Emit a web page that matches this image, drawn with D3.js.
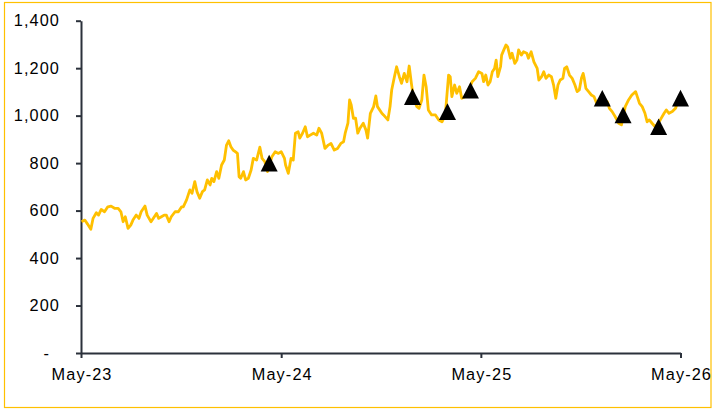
<!DOCTYPE html>
<html>
<head>
<meta charset="utf-8">
<script src="https://cdn.jsdelivr.net/npm/d3@7"></script>
<style>
    html, body { margin: 0; padding: 0; background: #fff; }
    svg text { font-family: "Liberation Sans", Arial, sans-serif; fill: #000; }
</style>
</head>
<body>
<svg id="chart" width="714" height="410"></svg>
<script>
// price series
const dates = [
    '2023-05-02', '2023-05-08', '2023-05-13', '2023-05-19', '2023-05-23', '2023-05-29', '2023-06-02', '2023-06-07',
    '2023-06-13', '2023-06-19', '2023-06-25', '2023-07-02', '2023-07-08', '2023-07-13', '2023-07-17', '2023-07-21',
    '2023-07-26', '2023-07-31', '2023-08-04', '2023-08-10', '2023-08-15', '2023-08-19', '2023-08-26', '2023-08-30',
    '2023-09-06', '2023-09-10', '2023-09-16', '2023-09-20', '2023-09-25', '2023-09-30', '2023-10-04', '2023-10-09',
    '2023-10-13', '2023-10-20', '2023-10-26', '2023-11-01', '2023-11-04', '2023-11-10', '2023-11-16', '2023-11-20',
    '2023-11-25', '2023-11-29', '2023-12-04', '2023-12-09', '2023-12-13', '2023-12-18', '2023-12-23', '2023-12-26',
    '2023-12-30', '2024-01-04', '2024-01-08', '2024-01-13', '2024-01-18', '2024-01-22', '2024-01-26', '2024-01-30',
    '2024-02-03', '2024-02-07', '2024-02-11', '2024-02-14', '2024-02-17', '2024-02-22', '2024-02-26', '2024-03-02',
    '2024-03-07', '2024-03-11', '2024-03-17', '2024-03-23', '2024-03-27', '2024-04-01', '2024-04-06', '2024-04-14',
    '2024-04-20', '2024-04-26', '2024-05-01', '2024-05-07', '2024-05-09', '2024-05-14', '2024-05-19', '2024-05-23',
    '2024-05-27', '2024-06-01', '2024-06-04', '2024-06-09', '2024-06-14', '2024-06-18', '2024-06-23', '2024-06-29',
    '2024-07-05', '2024-07-09', '2024-07-14', '2024-07-20', '2024-07-26', '2024-07-31', '2024-08-06', '2024-08-12',
    '2024-08-18', '2024-08-23', '2024-08-26', '2024-08-31', '2024-09-03', '2024-09-06', '2024-09-10', '2024-09-14',
    '2024-09-18', '2024-09-22', '2024-09-28', '2024-10-03', '2024-10-06', '2024-10-11', '2024-10-17', '2024-10-21',
    '2024-10-24', '2024-11-01', '2024-11-04', '2024-11-12', '2024-11-16', '2024-11-19', '2024-11-24', '2024-11-28',
    '2024-12-03', '2024-12-07', '2024-12-12', '2024-12-17', '2024-12-21', '2024-12-25', '2024-12-29', '2025-01-04',
    '2025-01-08', '2025-01-13', '2025-01-17', '2025-01-21', '2025-01-25', '2025-01-31', '2025-02-07', '2025-02-13',
    '2025-02-19', '2025-02-25', '2025-03-03', '2025-03-06', '2025-03-09', '2025-03-14', '2025-03-18', '2025-03-23',
    '2025-03-27', '2025-04-02', '2025-04-09', '2025-04-15', '2025-04-21', '2025-04-27', '2025-05-03', '2025-05-06',
    '2025-05-10', '2025-05-14', '2025-05-18', '2025-05-22', '2025-05-26', '2025-05-29', '2025-06-01', '2025-06-06',
    '2025-06-08', '2025-06-12', '2025-06-16', '2025-06-19', '2025-06-24', '2025-06-27', '2025-07-02', '2025-07-06',
    '2025-07-09', '2025-07-14', '2025-07-18', '2025-07-24', '2025-07-27', '2025-08-01', '2025-08-06', '2025-08-09',
    '2025-08-12', '2025-08-15', '2025-08-20', '2025-08-24', '2025-08-28', '2025-09-02', '2025-09-07', '2025-09-11',
    '2025-09-15', '2025-09-19', '2025-09-23', '2025-09-28', '2025-10-01', '2025-10-05', '2025-10-10', '2025-10-15',
    '2025-10-20', '2025-10-24', '2025-10-28', '2025-11-01', '2025-11-04', '2025-11-06', '2025-11-09', '2025-11-14',
    '2025-11-19', '2025-11-24', '2025-11-29', '2025-12-06', '2025-12-12', '2025-12-18', '2025-12-22', '2025-12-27',
    '2026-01-02', '2026-01-08', '2026-01-13', '2026-01-20', '2026-01-26', '2026-02-01', '2026-02-08', '2026-02-11',
    '2026-02-15', '2026-02-20', '2026-02-25', '2026-03-01', '2026-03-05', '2026-03-10', '2026-03-16', '2026-03-25',
    '2026-04-01', '2026-04-05', '2026-04-10', '2026-04-16', '2026-04-22', '2026-04-25'
];

const values = [
    553, 560, 543, 521, 567, 591, 581, 605, 595, 616, 619, 609, 609, 595, 553, 574,
    525, 539, 560, 581, 567, 595, 619, 581, 553, 567, 588, 567, 574, 581, 581, 553,
    574, 595, 595, 616, 616, 645, 687, 673, 722, 680, 652, 680, 687, 729, 708, 736,
    722, 764, 736, 792, 813, 876, 894, 869, 855, 848, 841, 743, 736, 764, 729, 736,
    771, 820, 813, 867, 820, 806, 764, 827, 848, 841, 848, 820, 792, 757, 820, 813,
    926, 932, 905, 926, 953, 911, 918, 926, 918, 947, 926, 862, 876, 883, 855, 862,
    883, 890, 926, 968, 1066, 1045, 989, 989, 926, 947, 968, 939, 905, 1010, 1038, 1083,
    1038, 1010, 1003, 982, 1038, 1108, 1164, 1206, 1164, 1136, 1178, 1143, 1209, 1136, 1073, 1038,
    1031, 1066, 1171, 1122, 1024, 1003, 1003, 982, 974, 1003, 1171, 1164, 1080, 1129, 1094, 1122,
    1073, 1080, 1108, 1143, 1157, 1185, 1178, 1143, 1171, 1129, 1143, 1185, 1199, 1234, 1164, 1206,
    1255, 1277, 1298, 1290, 1242, 1263, 1220, 1234, 1277, 1255, 1269, 1263, 1242, 1269, 1227, 1213,
    1199, 1150, 1164, 1185, 1157, 1171, 1164, 1129, 1073, 1129, 1150, 1157, 1199, 1206, 1171, 1157,
    1129, 1101, 1108, 1159, 1178, 1157, 1115, 1101, 1087, 1080, 1050, 1053, 1053, 1059, 1031, 1017,
    994, 968, 961, 1038, 1066, 1087, 1101, 1080, 1052, 1038, 1010, 974, 982, 968, 952, 982,
    1010, 1024, 1010, 1017, 1031, 1052
];

// black triangle markers
const markerDates = ['2024-04-09', '2024-12-27', '2025-03-01', '2025-04-12', '2025-12-09', '2026-01-16', '2026-03-22', '2026-05-01'];
const markerValues = [800, 1080, 1017, 1107, 1073, 1003, 953, 1074];

const yTicks = [0, 200, 400, 600, 800, 1000, 1200, 1400];
const xTicks = ['2023-05-01', '2024-05-01', '2025-05-01', '2026-05-01'];

const parseDate = d3.utcParse('%Y-%m-%d');
const fmtX = d3.utcFormat('%b-%y');
const fmtY = d3.format(',');

const LEFT = 81, RIGHT = 680.5, TOP = 20.7, BOTTOM = 353;
const AXIS_COLOR = '#2b313b', GOLD = '#ffc000';

const svg = d3.select('#chart');

// outer frame
svg.append('rect')
    .attr('x', 4.5)
    .attr('y', 2.5)
    .attr('width', 706.5)
    .attr('height', 405)
    .attr('fill', 'none')
    .attr('stroke', GOLD)
    .attr('stroke-width', 1.2);

const x = d3.scaleUtc()
    .domain([parseDate(xTicks[0]), parseDate(xTicks[xTicks.length - 1])])
    .range([LEFT, RIGHT]);

const y = d3.scaleLinear()
    .domain([0, 1400])
    .range([BOTTOM, TOP]);

const series = dates.map((d, i) => ({date: parseDate(d), value: values[i]}));
const markers = markerDates.map((d, i) => ({date: parseDate(d), value: markerValues[i]}));

// axes
const yAxis = svg.append('g')
    .attr('transform', 'translate(' + LEFT + ',0)')
    .call(
        d3.axisLeft(y)
            .tickValues(yTicks)
            .tickFormat(d => d === 0 ? '-' : fmtY(d))
            .tickSize(5)
            .tickSizeOuter(0)
            .tickPadding(16)
    );

yAxis.selectAll('text')
    .attr('x', d => d === 0 ? -31 : -21)
    .style('font-size', '16.3px')
    .style('letter-spacing', '1.1px');

const xAxis = svg.append('g')
    .attr('transform', 'translate(0,' + BOTTOM + ')')
    .call(
        d3.axisBottom(x)
            .tickValues(xTicks.map(parseDate))
            .tickFormat(fmtX)
            .tickSize(5)
            .tickSizeOuter(0)
            .tickPadding(10)
    );

xAxis.selectAll('text')
    .style('font-size', '16.3px')
    .style('letter-spacing', '1.1px')
    .attr('dx', '0.55px');

svg.selectAll('.domain, .tick line')
    .attr('stroke', AXIS_COLOR)
    .attr('stroke-width', 2);

// price line
const line = d3.line()
    .x(d => x(d.date))
    .y(d => y(d.value));

svg.append('path')
    .datum(series)
    .attr('d', line)
    .attr('fill', 'none')
    .attr('stroke', GOLD)
    .attr('stroke-width', 2.8)
    .attr('stroke-linejoin', 'round');

// triangles
const triangle = d3.line()([[0, -8.3], [8.5, 8.3], [-8.5, 8.3]]) + 'Z';

svg.append('g')
    .selectAll('path')
    .data(markers)
    .enter()
    .append('path')
    .attr('d', triangle)
    .attr('transform', d => 'translate(' + x(d.date) + ',' + y(d.value) + ')')
    .attr('fill', '#000');
</script>
</body>
</html>
